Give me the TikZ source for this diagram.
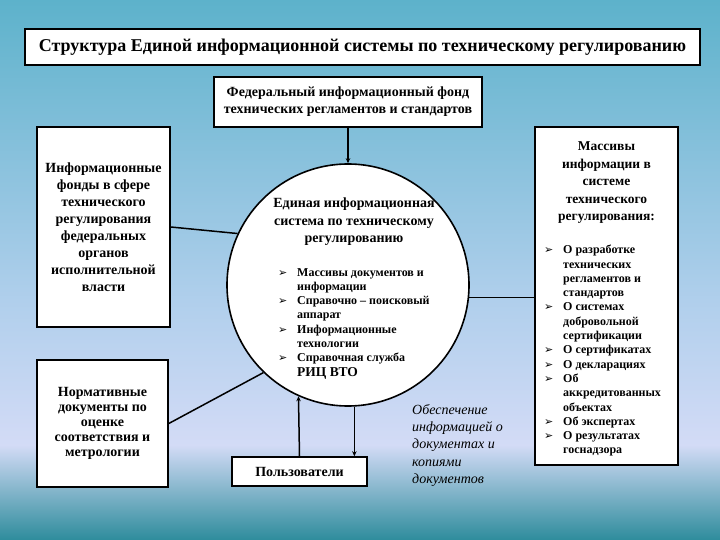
\documentclass[tikz,border=0pt]{standalone}
\usepackage{fontspec}
\setmainfont{Liberation Serif}
\newfontfamily\bulfont{DejaVu Sans}
\usetikzlibrary{positioning,arrows.meta}

\definecolor{bgtop}{HTML}{5DB2CB}
\definecolor{bgmid}{HTML}{B0CFEC}
\definecolor{bglav}{HTML}{D3DBF6}
\definecolor{bgbot}{HTML}{2E8C9C}

\newcommand{\blt}{\makebox[19pt][l]{\bulfont\bfseries\fontsize{11}{11}\selectfont ➢}}
\newcommand{\indt}{\hspace*{19pt}}

\tikzset{
  box/.style={draw=black, line width=1.6pt, fill=white, inner sep=0pt},
  conn/.style={draw, line width=1.5pt},
  boldtxt/.style={font=\fontsize{14}{15.2}\selectfont\bfseries, align=center},
  listtxt/.style={font=\fontsize{12}{14.3}\selectfont\bfseries, align=left, inner sep=0pt},
  >={Stealth[length=5pt,width=4.5pt]}
}

\begin{document}
\begin{tikzpicture}[x=1pt,y=-1pt]
    \useasboundingbox (0,0) rectangle (720,540);
    % background
    \fill[top color=bgtop, bottom color=bgmid] (0,0) rectangle (720,300.5);
    \fill[top color=bgmid, bottom color=bglav] (0,300) rectangle (720,445.5);
    \fill[top color=bglav, bottom color=bgbot] (0,445) rectangle (720,540);

    % title
    \node[box, minimum width=675pt, minimum height=36pt,
      font=\fontsize{18}{20}\selectfont\bfseries] (title) at (362.5,47)
      {Структура Единой информационной системы по техническому регулированию};

    % boxes
    \node[box, boldtxt, font=\fontsize{14}{17}\selectfont\bfseries,
      minimum width=268pt, minimum height=50pt] (fed) at (348,102)
      {Федеральный информационный фонд\\технических регламентов и стандартов};

    \node[box, boldtxt, font=\fontsize{14}{17}\selectfont\bfseries,
      minimum width=133pt, minimum height=200pt] (fonds) at (103.5,227)
      {Информационные\\фонды в сфере\\технического\\регулирования\\федеральных\\органов\\исполнительной\\власти};

    \node[box, boldtxt, minimum width=131pt, minimum height=127pt] (normdocs) at (102.5,423.5)
      {Нормативные\\документы по\\оценке\\соответствия и\\метрологии};

    \node[box, minimum width=143pt, minimum height=338pt] (massivy) at (606.5,296) {};

    \node[box, boldtxt, minimum width=135pt, minimum height=29pt] (users) at (299.5,471.5)
      {Пользователи};

    \node[box, circle, minimum size=242pt] (sys) at (348,285) {};

    % texts in the circle
    \node[font=\fontsize{14}{17.5}\selectfont\bfseries, align=center] (systitle) at (354,222)
      {Единая информационная\\система по техническому\\регулированию};
    \node[listtxt, anchor=north west] (syslist) at (278,268)
      {\blt Массивы документов и\\
       \indt информации\\
       \blt Справочно -- поисковый\\
       \indt аппарат\\
       \blt Информационные\\
       \indt технологии\\
       \blt Справочная служба\\
       \indt {\fontsize{13.5}{14}\selectfont РИЦ ВТО}};

    % texts in the right box
    \node[font=\fontsize{13.5}{17.5}\selectfont\bfseries, align=center] (massivytitle) at (606.5,183)
      {Массивы\\информации в\\системе\\технического\\регулирования:};
    \node[listtxt, anchor=north west] (massivylist) at (544,245)
      {\blt О разработке\\
       \indt технических\\
       \indt регламентов и\\
       \indt стандартов\\
       \blt О системах\\
       \indt добровольной\\
       \indt сертификации\\
       \blt О сертификатах\\
       \blt О декларациях\\
       \blt Об\\
       \indt аккредитованных\\
       \indt объектах\\
       \blt Об экспертах\\
       \blt О результатах\\
       \indt госнадзора};

    % italic note
    \node[font=\fontsize{14}{17.3}\selectfont\itshape, align=left, inner sep=0pt,
      anchor=north west] (supply) at (412,404)
      {Обеспечение\\информацией о\\документах и\\копиями\\документов};

    % connectors
    \path[conn,->] (fed) -- (sys.north);
    \path[conn] (fonds.east) -- (sys.155);
    \path[conn] (normdocs.east) -- (sys.226);
    \path[conn] (sys.-6) -- (sys.-6 -| massivy.west);
    \path[conn,->] (users.north) -- (sys.246);
    \path[conn,->] (sys.273) -- (sys.273 |- users.north);
\end{tikzpicture}
\end{document}
